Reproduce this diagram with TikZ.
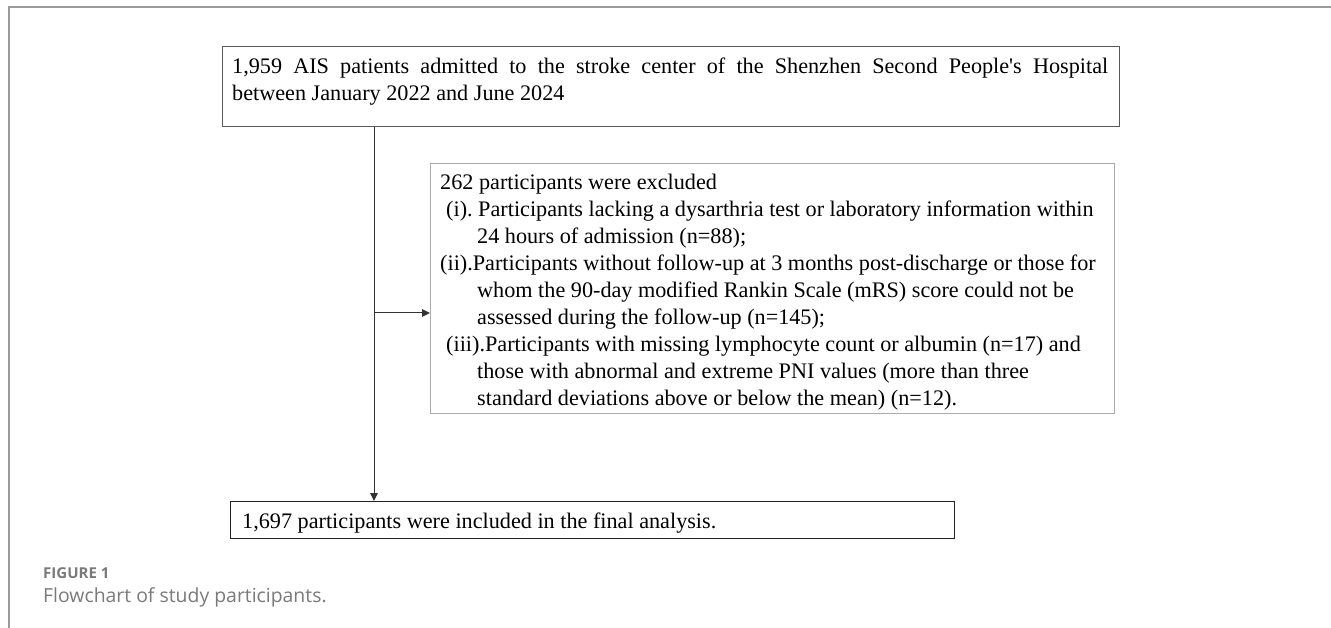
\documentclass[tikz,border=0pt]{standalone}
\usepackage{fontspec}
\setmainfont{Liberation Serif}[Ligatures=TeXOff]
\newfontfamily\capfont{Open Sans}
\usetikzlibrary{arrows.meta}
\definecolor{framegray}{HTML}{9A9A9A}
\definecolor{capgray}{HTML}{7A7A7A}
\definecolor{boxonegray}{HTML}{5A5A5A}
\definecolor{boxtwogray}{HTML}{ABABAB}
\definecolor{boxthreegray}{HTML}{222222}
\definecolor{linegray}{HTML}{333333}
\newcommand{\boxfont}{\fontsize{22.2pt}{26.9pt}\selectfont\frenchspacing}
\begin{document}
\begin{tikzpicture}[x=1pt,y=-1pt,
  frameline/.style={draw=framegray,line width=1.2pt},
  flowbox/.style={draw,rectangle,inner sep=0pt,anchor=north west},
  boxtext/.style={anchor=base west,inner sep=0pt,text=black},
  conn/.style={draw=linegray,line width=1pt},
  arr/.style={conn,-{Triangle[length=8pt,width=7.5pt]}},
  captext/.style={anchor=base west,inner sep=0pt,text=capgray}]
\useasboundingbox (0,0) rectangle (1331,628);
\fill[white] (0,0) rectangle (1331,628);
\draw[frameline] (9,628) -- (9,7) -- (1331,7);
% boxes
\node[flowbox,draw=boxonegray,line width=1.2pt,minimum width=897pt,minimum height=80pt] (b1) at (222,46) {};
\node[flowbox,draw=boxtwogray,line width=1pt,minimum width=684pt,minimum height=250pt] (b2) at (430,163) {};
\node[flowbox,draw=boxthreegray,line width=1.2pt,minimum width=724pt,minimum height=37pt] (b3) at (230,501) {};
% texts
\node[boxtext] (t1) at (232,74) {\parbox[t]{876pt}{\boxfont 1,959 AIS patients admitted to the stroke center of the Shenzhen Second People's Hospital\linebreak between January 2022 and June 2024}};
\node[boxtext] (t2) at (440,190) {\parbox[t]{674pt}{\raggedright\boxfont
262 participants were excluded\\
\hspace*{6pt}(i). Participants lacking a dysarthria test or laboratory information within\\
\hspace*{37pt}24 hours of admission (n=88);\\
(ii).Participants without follow-up at 3 months post-discharge or those for\\
\hspace*{37pt}whom the 90-day modified Rankin Scale (mRS) score could not be\\
\hspace*{37pt}assessed during the follow-up (n=145);\\
\hspace*{6pt}(iii).Participants with missing lymphocyte count or albumin (n=17) and\\
\hspace*{37pt}those with abnormal and extreme PNI values (more than three\\
\hspace*{37pt}standard deviations above or below the mean) (n=12).}};
\node[boxtext] (t3) at (242,528) {\boxfont 1,697 participants were included in the final analysis.};
% connectors
\coordinate (split) at (374,313);
\draw[arr] (split |- b1.south) -- (split |- b3.north);
\draw[arr] (split) -- (split -| b2.west);
% caption
\node[captext] (c1) at (43,578) {\capfont\bfseries\fontsize{15pt}{17pt}\selectfont FIGURE 1};
\node[captext] (c2) at (43,602) {\capfont\fontsize{19.4pt}{22pt}\selectfont Flowchart of study participants.};
\end{tikzpicture}
\end{document}
